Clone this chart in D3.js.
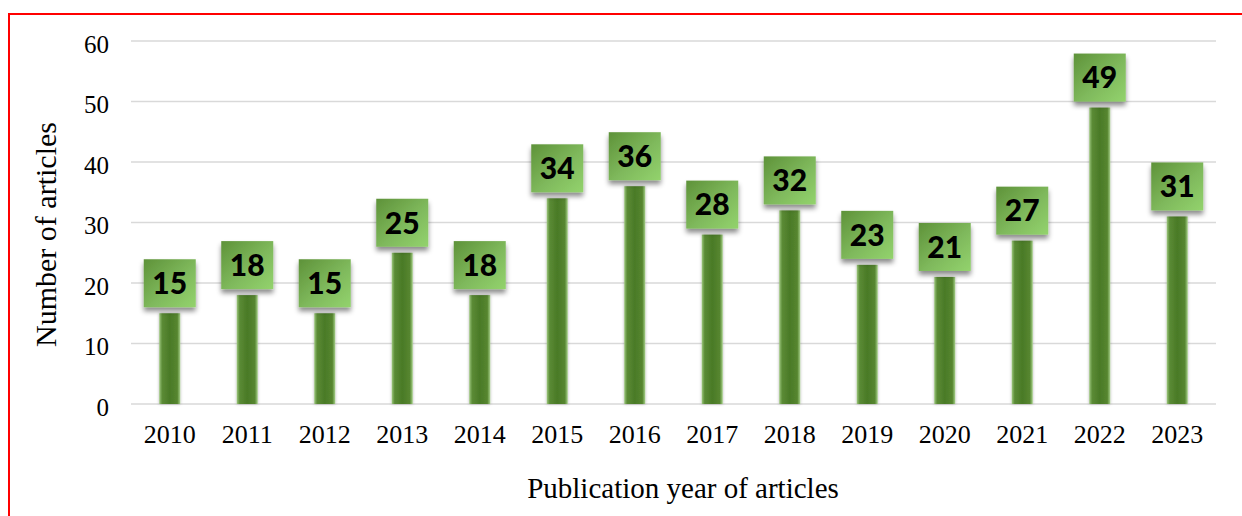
<!DOCTYPE html>
<html lang="en">
<head>
    <meta charset="UTF-8">
    <title>Publication year of articles</title>
    <style>
        html, body { margin: 0; padding: 0; background: #fff; }
        #chart { width: 1242px; height: 516px; }
    </style>
</head>
<body>
    <div id="chart"></div>

    <script src="https://d3js.org/d3.v7.min.js"></script>
    <script>
        const years = ['2010', '2011', '2012', '2013', '2014', '2015', '2016',
            '2017', '2018', '2019', '2020', '2021', '2022', '2023']
        const articles = [15, 18, 15, 25, 18, 34, 36, 28, 32, 23, 21, 27, 49, 31]
        const yTicks = [0, 10, 20, 30, 40, 50, 60]

        const width = 1242
        const height = 516
        const margin = { left: 131, right: 26, top: 41, bottom: 112 }
        const serif = '"Liberation Serif", "Times New Roman", serif'

        const svg = d3.select('#chart')
            .append('svg')
            .attr('width', width)
            .attr('height', height)

        const defs = svg.append('defs')

        // stem: dark middle, lighter edges
        const stemGrad = defs.append('linearGradient')
            .attr('id', 'stem')
            .attr('x1', 0).attr('x2', 1).attr('y1', 0).attr('y2', 0)
        stemGrad.append('stop').attr('offset', '0%').attr('stop-color', '#9cc77d')
        stemGrad.append('stop').attr('offset', '14%').attr('stop-color', '#5b8b35')
        stemGrad.append('stop').attr('offset', '50%').attr('stop-color', '#4a7a27')
        stemGrad.append('stop').attr('offset', '86%').attr('stop-color', '#568630')
        stemGrad.append('stop').attr('offset', '100%').attr('stop-color', '#a5cf88')

        // label box
        const boxGrad = defs.append('linearGradient')
            .attr('id', 'box')
            .attr('x1', 0).attr('y1', 0).attr('x2', 1).attr('y2', 1)
        boxGrad.append('stop').attr('offset', '0%').attr('stop-color', '#5e9239')
        boxGrad.append('stop').attr('offset', '55%').attr('stop-color', '#7fb95c')
        boxGrad.append('stop').attr('offset', '100%').attr('stop-color', '#93d36d')

        const shadow = defs.append('filter')
            .attr('id', 'shadow')
            .attr('x', '-30%').attr('y', '-30%')
            .attr('width', '160%').attr('height', '170%')
        shadow.append('feDropShadow')
            .attr('dx', 0).attr('dy', 4)
            .attr('stdDeviation', 2.5)
            .attr('flood-color', '#000')
            .attr('flood-opacity', 0.45)

        const stemShadow = defs.append('filter')
            .attr('id', 'stemShadow')
            .attr('x', '-40%').attr('y', '-5%')
            .attr('width', '180%').attr('height', '110%')
        stemShadow.append('feDropShadow')
            .attr('dx', 0).attr('dy', 0)
            .attr('stdDeviation', 1.5)
            .attr('flood-color', '#000')
            .attr('flood-opacity', 0.3)

        // red frame
        svg.append('path')
            .attr('d', `M9,${height + 5} V14 H${width + 5}`)
            .attr('fill', 'none')
            .attr('stroke', '#ff0000')
            .attr('stroke-width', 2)

        const x = d3.scaleBand()
            .domain(years)
            .range([margin.left, width - margin.right])
            .padding(0)

        const y = d3.scaleLinear()
            .domain([0, 60])
            .range([height - margin.bottom, margin.top])

        // grid
        svg.append('g')
            .selectAll('line')
            .data(yTicks)
            .join('line')
            .attr('x1', margin.left)
            .attr('x2', width - margin.right)
            .attr('y1', d => y(d))
            .attr('y2', d => y(d))
            .attr('stroke', '#d9d9d9')
            .attr('stroke-width', 1.5)

        // y axis labels
        const yAxis = d3.axisLeft(y).tickValues(yTicks).tickSize(0).tickPadding(0)
        svg.append('g')
            .attr('transform', `translate(${margin.left - 22}, 3)`)
            .call(yAxis)
            .call(g => g.select('.domain').remove())
            .selectAll('text')
            .attr('font-family', serif)
            .attr('font-size', 25)
            .attr('fill', '#000')

        // x axis labels
        const xAxis = d3.axisBottom(x).tickSize(0).tickPadding(0)
        svg.append('g')
            .attr('transform', `translate(0, ${y(0) + 21})`)
            .call(xAxis)
            .call(g => g.select('.domain').remove())
            .selectAll('text')
            .attr('font-family', serif)
            .attr('font-size', 26)
            .attr('fill', '#000')

        // axis titles
        svg.append('text')
            .attr('x', 683)
            .attr('y', 498)
            .attr('text-anchor', 'middle')
            .attr('font-family', serif)
            .attr('font-size', 29)
            .text('Publication  year of articles')

        svg.append('text')
            .attr('transform', `translate(56, ${(y(0) + y(60)) / 2 + 12}) rotate(-90)`)
            .attr('text-anchor', 'middle')
            .attr('font-family', serif)
            .attr('font-size', 30)
            .text('Number of articles')

        const stemW = 21
        const boxW = 52
        const boxH = 48
        const gap = 6

        const bars = svg.append('g')
            .selectAll('g')
            .data(years.map((yr, i) => ({ year: yr, value: articles[i] })))
            .join('g')
            .attr('transform', d => `translate(${x(d.year) + x.bandwidth() / 2}, 0)`)

        bars.append('rect')
            .attr('x', -stemW / 2)
            .attr('y', d => y(d.value))
            .attr('width', stemW)
            .attr('height', d => y(0) - y(d.value))
            .attr('fill', 'url(#stem)')
            .attr('filter', 'url(#stemShadow)')

        bars.append('rect')
            .attr('x', -boxW / 2)
            .attr('y', d => y(d.value) - gap - boxH)
            .attr('width', boxW)
            .attr('height', boxH)
            .attr('fill', 'url(#box)')
            .attr('filter', 'url(#shadow)')

        bars.append('text')
            .attr('y', d => y(d.value) - gap - boxH / 2)
            .attr('dy', '0.36em')
            .attr('text-anchor', 'middle')
            .attr('font-family', 'Lato, "DejaVu Sans", sans-serif')
            .attr('font-weight', 900)
            .attr('font-size', 30)
            .attr('fill', '#000')
            .text(d => d.value)
    </script>
</body>
</html>
